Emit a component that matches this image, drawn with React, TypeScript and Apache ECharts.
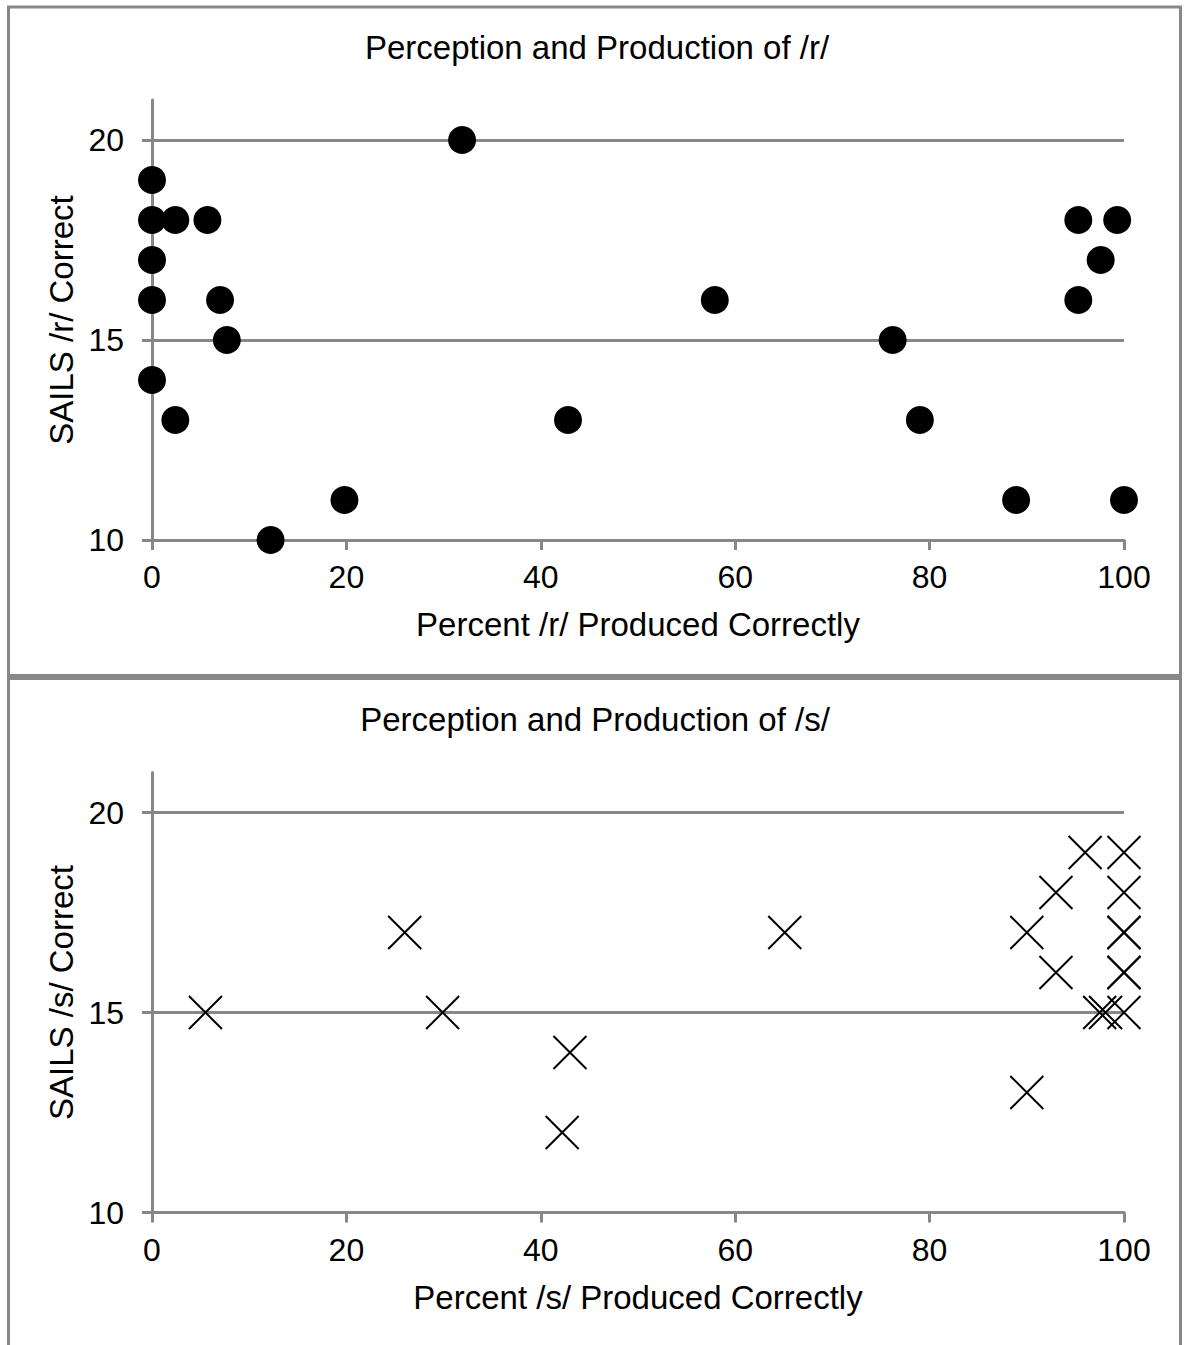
import React, { useEffect, useRef } from "react";
import * as echarts from "echarts";

const rX = [0, 0, 2.4, 5.7, 0, 0, 7.0, 7.7, 0, 2.4, 12.2, 19.8, 31.9, 42.8, 57.9, 76.2, 79.0, 88.9, 95.3, 99.3, 97.6, 95.3, 100];
const rY = [19, 18, 18, 18, 17, 16, 16, 15, 14, 13, 10, 11, 20, 13, 16, 15, 13, 11, 18, 18, 17, 16, 11];

const sX = [5.5, 26.0, 29.9, 43.0, 42.2, 65.1, 90.0, 93.0, 93.0, 96.0, 100, 100, 100, 100, 100, 100, 100, 97.5, 98.1, 90.0];
const sY = [15, 17, 15, 14, 12, 17, 17, 16, 18, 19, 19, 18, 17, 17, 16, 16, 15, 15, 15, 13];

const yTicks = [10, 15, 20];
const titles = ["Perception and Production of /r/", "Perception and Production of /s/"];
const xNames = ["Percent /r/ Produced Correctly", "Percent /s/ Produced Correctly"];
const yNames = ["SAILS /r/ Correct", "SAILS /s/ Correct"];

const FONT = "'Liberation Sans', Arial, sans-serif";
const GRAY = "#878787";

export default function App() {
  const ref = useRef<HTMLDivElement>(null);
  useEffect(() => {
    document.body.style.margin = "0";
    const chart = echarts.init(ref.current!, null, { renderer: "svg" });
    const tops = [100, 772.5];
    const mkX = (i: number) => ({
      type: "value",
      gridIndex: i,
      min: 0,
      max: 100,
      interval: 20,
      name: xNames[i],
      nameLocation: "middle",
      nameGap: 68,
      nameTextStyle: { fontFamily: FONT, fontSize: 33, color: "#000" },
      axisLine: { show: true, onZero: false, lineStyle: { color: GRAY, width: 3 } },
      axisTick: { show: true, inside: false, length: 10, lineStyle: { color: GRAY, width: 3 } },
      axisLabel: { fontFamily: FONT, fontSize: 32, color: "#000", margin: 21 },
      splitLine: { show: false },
    });
    const mkY = (i: number) => ({
      type: "value",
      gridIndex: i,
      min: 10,
      max: 21,
      name: yNames[i],
      nameLocation: "middle",
      nameGap: 73,
      nameRotate: 90,
      nameTextStyle: { fontFamily: FONT, fontSize: 33, color: "#000" },
      axisLine: { show: true, onZero: false, lineStyle: { color: GRAY, width: 3 } },
      axisTick: { show: true, inside: false, length: 10, customValues: yTicks, lineStyle: { color: GRAY, width: 3 } },
      axisLabel: { fontFamily: FONT, fontSize: 32, color: "#000", margin: 28, customValues: yTicks },
      splitLine: { show: true, lineStyle: { color: GRAY, width: 3 } },
    });
    chart.setOption({
      animation: false,
      backgroundColor: "#fff",
      grid: tops.map((t) => ({ left: 152, top: t, width: 972, height: 440, containLabel: false })),
      xAxis: [mkX(0), mkX(1)],
      yAxis: [mkY(0), mkY(1)],
      graphic: [
        { type: "rect", shape: { x: 8.5, y: 7, width: 1172, height: 668.5 }, style: { fill: "none", stroke: GRAY, lineWidth: 3 }, z: 100 },
        { type: "rect", shape: { x: 8.5, y: 678.5, width: 1172, height: 700 }, style: { fill: "none", stroke: GRAY, lineWidth: 3 }, z: 100 },
        { type: "text", x: 597, y: 47, style: { text: titles[0], fontFamily: FONT, fontSize: 33, fill: "#000", textAlign: "center", textVerticalAlign: "middle" } },
        { type: "text", x: 595, y: 719, style: { text: titles[1], fontFamily: FONT, fontSize: 33, fill: "#000", textAlign: "center", textVerticalAlign: "middle" } },
      ],
      series: [
        {
          type: "scatter",
          xAxisIndex: 0,
          yAxisIndex: 0,
          symbol: "circle",
          symbolSize: 28,
          itemStyle: { color: "#000", opacity: 1 },
          data: rX.map((x, i) => [x, rY[i]]),
          z: 5,
        },
        {
          type: "scatter",
          xAxisIndex: 1,
          yAxisIndex: 1,
          symbol: "path://M0,0L100,100M100,0L0,100",
          symbolSize: 33,
          itemStyle: { color: "none", borderColor: "#000", borderWidth: 2, opacity: 1 },
          data: sX.map((x, i) => [x, sY[i]]),
          z: 5,
        },
      ],
    });
    return () => chart.dispose();
  }, []);
  return <div ref={ref} style={{ width: 1184, height: 1345 }} />;
}
